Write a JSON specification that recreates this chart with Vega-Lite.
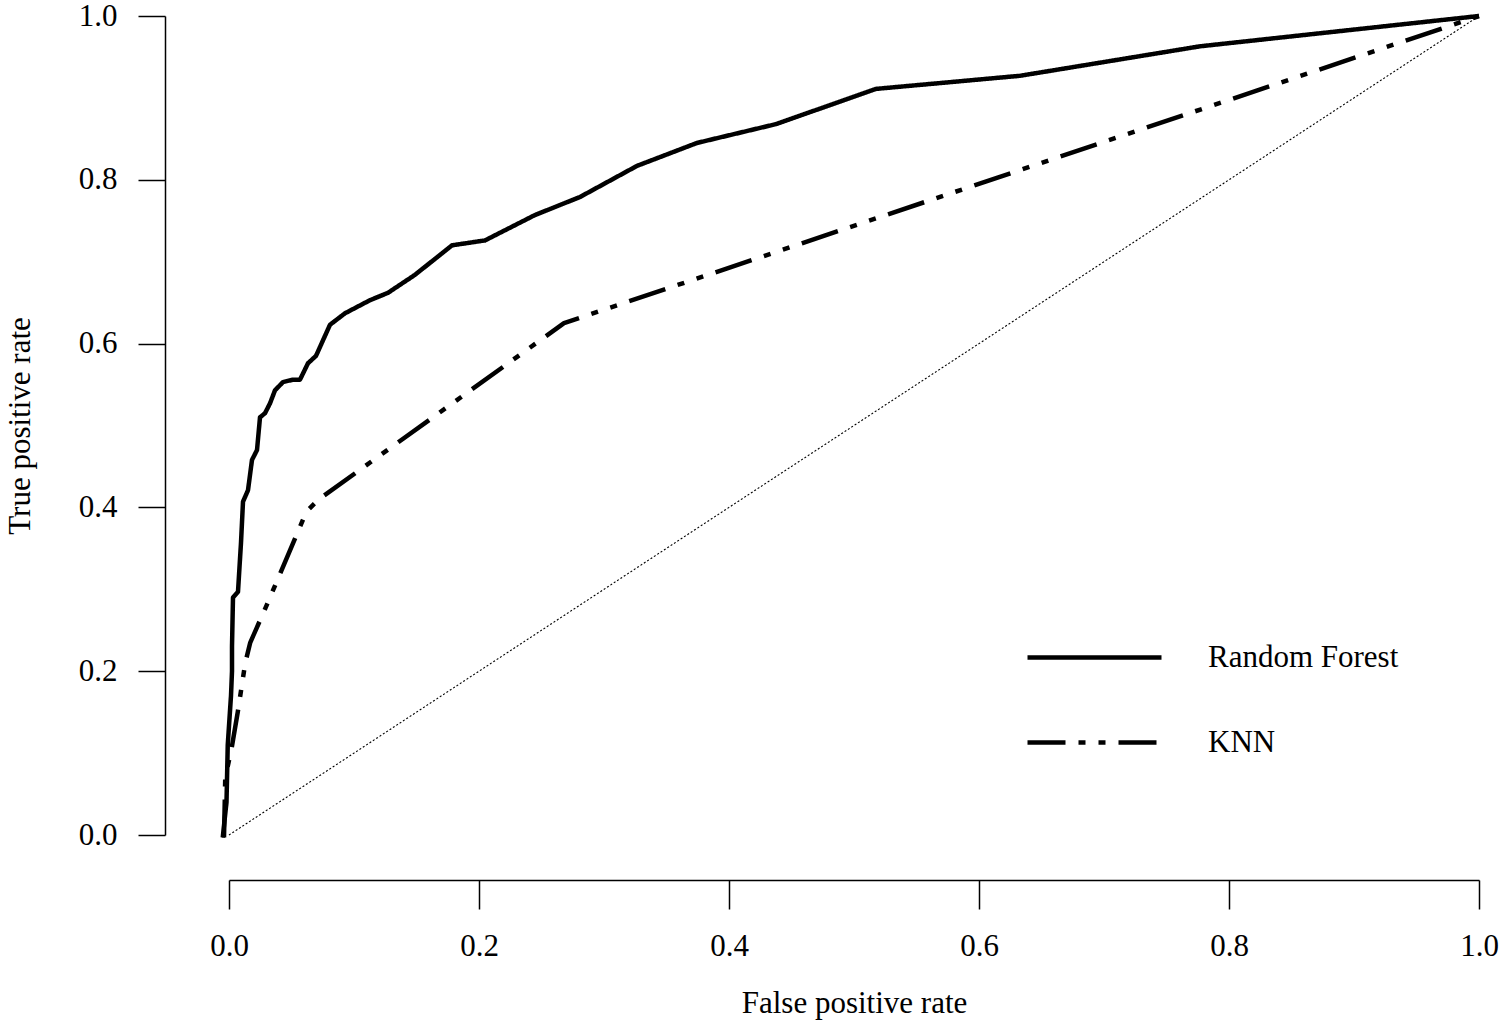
{
  "$schema": "https://vega.github.io/schema/vega-lite/v6.json",
  "width": 1250,
  "height": 819,
  "autosize": {"type": "none"},
  "padding": {"left": 229, "top": 16, "right": 23, "bottom": 189},
  "background": "white",
  "config": {
    "view": {"stroke": null},
    "font": "Liberation Serif",
    "axis": {
      "domainColor": "black", "domainWidth": 1.5, "tickColor": "black", "tickWidth": 1.5,
      "labelColor": "black", "labelFont": "Liberation Serif", "labelFontSize": 31,
      "titleColor": "black", "titleFont": "Liberation Serif", "titleFontSize": 31, "titleFontWeight": "normal",
      "grid": false
    }
  },
  "datasets": {
    "roc": [
      {"model": "Random Forest", "i": 0, "fpr": -0.005, "tpr": -0.003},
      {"model": "Random Forest", "i": 1, "fpr": -0.002, "tpr": 0.04},
      {"model": "Random Forest", "i": 2, "fpr": -0.001, "tpr": 0.11},
      {"model": "Random Forest", "i": 3, "fpr": 0.0016, "tpr": 0.17},
      {"model": "Random Forest", "i": 4, "fpr": 0.0024, "tpr": 0.2},
      {"model": "Random Forest", "i": 5, "fpr": 0.0024, "tpr": 0.23},
      {"model": "Random Forest", "i": 6, "fpr": 0.0032, "tpr": 0.29},
      {"model": "Random Forest", "i": 7, "fpr": 0.0072, "tpr": 0.297},
      {"model": "Random Forest", "i": 8, "fpr": 0.0096, "tpr": 0.357},
      {"model": "Random Forest", "i": 9, "fpr": 0.0112, "tpr": 0.407},
      {"model": "Random Forest", "i": 10, "fpr": 0.0152, "tpr": 0.421},
      {"model": "Random Forest", "i": 11, "fpr": 0.0184, "tpr": 0.458},
      {"model": "Random Forest", "i": 12, "fpr": 0.0224, "tpr": 0.47},
      {"model": "Random Forest", "i": 13, "fpr": 0.0248, "tpr": 0.51},
      {"model": "Random Forest", "i": 14, "fpr": 0.0288, "tpr": 0.515},
      {"model": "Random Forest", "i": 15, "fpr": 0.0328, "tpr": 0.527},
      {"model": "Random Forest", "i": 16, "fpr": 0.0368, "tpr": 0.543},
      {"model": "Random Forest", "i": 17, "fpr": 0.0432, "tpr": 0.553},
      {"model": "Random Forest", "i": 18, "fpr": 0.0512, "tpr": 0.556},
      {"model": "Random Forest", "i": 19, "fpr": 0.0568, "tpr": 0.556},
      {"model": "Random Forest", "i": 20, "fpr": 0.0632, "tpr": 0.576},
      {"model": "Random Forest", "i": 21, "fpr": 0.0696, "tpr": 0.585},
      {"model": "Random Forest", "i": 22, "fpr": 0.0808, "tpr": 0.623},
      {"model": "Random Forest", "i": 23, "fpr": 0.0928, "tpr": 0.637},
      {"model": "Random Forest", "i": 24, "fpr": 0.1128, "tpr": 0.653},
      {"model": "Random Forest", "i": 25, "fpr": 0.1272, "tpr": 0.662},
      {"model": "Random Forest", "i": 26, "fpr": 0.1488, "tpr": 0.684},
      {"model": "Random Forest", "i": 27, "fpr": 0.1784, "tpr": 0.72},
      {"model": "Random Forest", "i": 28, "fpr": 0.2048, "tpr": 0.726},
      {"model": "Random Forest", "i": 29, "fpr": 0.2448, "tpr": 0.757},
      {"model": "Random Forest", "i": 30, "fpr": 0.2808, "tpr": 0.779},
      {"model": "Random Forest", "i": 31, "fpr": 0.3264, "tpr": 0.817},
      {"model": "Random Forest", "i": 32, "fpr": 0.3744, "tpr": 0.845},
      {"model": "Random Forest", "i": 33, "fpr": 0.4376, "tpr": 0.868},
      {"model": "Random Forest", "i": 34, "fpr": 0.5176, "tpr": 0.911},
      {"model": "Random Forest", "i": 35, "fpr": 0.6328, "tpr": 0.927},
      {"model": "Random Forest", "i": 36, "fpr": 0.7768, "tpr": 0.963},
      {"model": "Random Forest", "i": 37, "fpr": 1.0, "tpr": 1.0},
      {"model": "KNN", "i": 0, "fpr": -0.004, "tpr": -0.003},
      {"model": "KNN", "i": 1, "fpr": -0.003, "tpr": 0.07},
      {"model": "KNN", "i": 2, "fpr": 0.002, "tpr": 0.105},
      {"model": "KNN", "i": 3, "fpr": 0.007, "tpr": 0.15},
      {"model": "KNN", "i": 4, "fpr": 0.013, "tpr": 0.21},
      {"model": "KNN", "i": 5, "fpr": 0.017, "tpr": 0.235},
      {"model": "KNN", "i": 6, "fpr": 0.03, "tpr": 0.28},
      {"model": "KNN", "i": 7, "fpr": 0.062, "tpr": 0.395},
      {"model": "KNN", "i": 8, "fpr": 0.072, "tpr": 0.41},
      {"model": "KNN", "i": 9, "fpr": 0.268, "tpr": 0.625},
      {"model": "KNN", "i": 10, "fpr": 1.0, "tpr": 1.0}
    ],
    "diag": [
      {"fpr": 0, "tpr": 0},
      {"fpr": 1, "tpr": 1}
    ]
  },
  "layer": [
    {
      "data": {"name": "diag"},
      "mark": {"type": "line", "color": "black", "strokeWidth": 1.1, "strokeDash": [2, 2]},
      "encoding": {
        "x": {"field": "fpr", "type": "quantitative", "scale": {"domain": [0, 1], "nice": false, "zero": false},
              "axis": {"title": "False positive rate", "orient": "bottom", "offset": 45, "tickSize": 29, "labelPadding": 22, "titlePadding": 27, "values": [0, 0.2, 0.4, 0.6, 0.8, 1.0], "format": ".1f", "labelFlush": false}},
        "y": {"field": "tpr", "type": "quantitative", "scale": {"domain": [0, 1], "nice": false, "zero": false},
              "axis": {"title": "True positive rate", "orient": "left", "offset": 64, "tickSize": 27, "labelPadding": 21, "titlePadding": 42, "values": [0, 0.2, 0.4, 0.6, 0.8, 1.0], "format": ".1f", "labelFlush": false, "labelBaseline": "middle"}}
      }
    },
    {
      "data": {"name": "roc"},
      "mark": {"type": "line", "color": "black", "strokeWidth": 4.5, "strokeCap": "butt", "strokeJoin": "round", "clip": false},
      "encoding": {
        "x": {"field": "fpr", "type": "quantitative"},
        "y": {"field": "tpr", "type": "quantitative"},
        "order": {"field": "i", "type": "quantitative"},
        "strokeDash": {
          "field": "model", "type": "nominal",
          "scale": {"domain": ["Random Forest", "KNN"], "range": [[1, 0], [38, 13, 7, 13, 7, 13]]},
          "legend": {
            "title": null, "orient": "none", "legendX": 796, "legendY": 572,
            "symbolType": "stroke", "symbolSize": 17956, "symbolStrokeWidth": 4.5, "symbolStrokeColor": "black",
            "labelFont": "Liberation Serif", "labelFontSize": 31, "labelColor": "black", "labelOffset": 44,
            "rowPadding": -49, "padding": 0, "labelLimit": 400
          }
        }
      }
    }
  ]
}
